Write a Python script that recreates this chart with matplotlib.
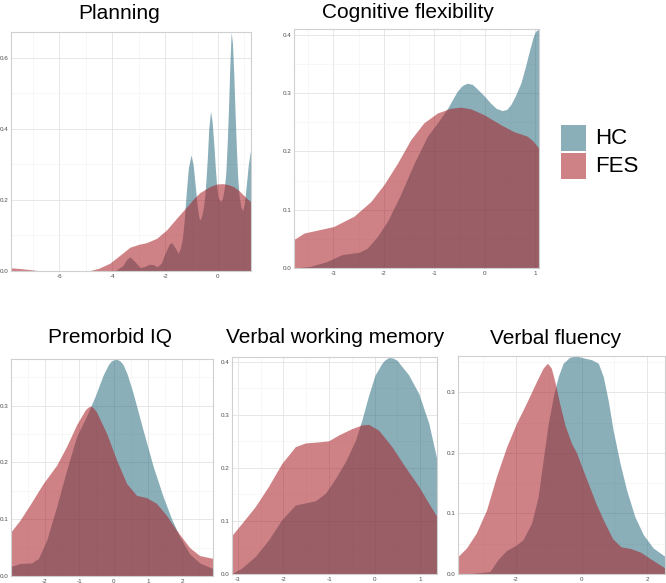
import matplotlib.pyplot as plt
from matplotlib.patches import Rectangle
from matplotlib.ticker import MultipleLocator

plt.rcParams['font.family'] = ['Liberation Sans', 'DejaVu Sans']

# density curves (x, y per group)
plan_hc_x = [-7.83, -3.9, -3.6, -3.45, -3.33, -3.15, -2.95, -2.8, -2.6, -2.45, -2.3, -2.15, -2.0, -1.85,
             -1.75, -1.62, -1.5, -1.42, -1.35, -1.28, -1.2, -1.12, -1.02, -0.94, -0.86, -0.78, -0.72,
             -0.67, -0.6, -0.55, -0.5, -0.45, -0.4, -0.35, -0.28, -0.22, -0.15, -0.1, -0.05, 0.0, 0.08,
             0.15, 0.2, 0.25, 0.3, 0.35, 0.4, 0.45, 0.5, 0.55, 0.6, 0.65, 0.7, 0.75, 0.8, 0.87, 0.93,
             1.0, 1.07, 1.15, 1.25]
plan_hc_y = [0.0, 0.0, 0.015, 0.033, 0.04, 0.027, 0.01, 0.012, 0.019, 0.018, 0.012, 0.022, 0.05, 0.075,
             0.08, 0.065, 0.05, 0.065, 0.09, 0.14, 0.22, 0.29, 0.327, 0.3, 0.24, 0.18, 0.15,
             0.144, 0.16, 0.18, 0.21, 0.26, 0.32, 0.4, 0.45, 0.42, 0.35, 0.29, 0.24, 0.21, 0.196,
             0.2, 0.215, 0.24, 0.28, 0.36, 0.46, 0.58, 0.673, 0.64, 0.55, 0.44, 0.34, 0.26, 0.21, 0.18, 0.17,
             0.19, 0.24, 0.3, 0.35]
plan_fes_x = [-7.83, -7.5, -7.0, -6.7, -5.0, -4.8, -4.5, -4.09, -3.7, -3.33, -3.0, -2.7, -2.32, -1.94,
              -1.56, -1.19, -0.9, -0.68, -0.3, -0.05, 0.2, 0.4, 0.58, 0.8, 0.96, 1.1, 1.25]
plan_fes_y = [0.009, 0.007, 0.003, 0.0, 0.0, 0.002, 0.008, 0.022, 0.045, 0.067, 0.075, 0.08, 0.092, 0.116,
              0.149, 0.18, 0.205, 0.221, 0.238, 0.245, 0.246, 0.243, 0.238, 0.226, 0.214, 0.204, 0.194]

cog_hc_x = [-3.78, -3.45, -3.13, -2.83, -2.49, -2.33, -2.13, -1.93, -1.67, -1.4, -1.14, -0.94, -0.74,
            -0.55, -0.45, -0.35, -0.25, -0.15, 0.0, 0.11, 0.22, 0.34, 0.43, 0.51, 0.6, 0.71, 0.8, 0.87,
            0.95, 1.0, 1.07]
cog_hc_y = [0.0, 0.003, 0.011, 0.023, 0.027, 0.034, 0.054, 0.08, 0.126, 0.18, 0.226, 0.249, 0.274,
            0.303, 0.313, 0.317, 0.315, 0.307, 0.294, 0.283, 0.274, 0.27, 0.272, 0.28, 0.295, 0.317, 0.345,
            0.369, 0.395, 0.406, 0.41]
cog_fes_x = [-3.78, -3.58, -3.0, -2.59, -2.26, -2.0, -1.73, -1.47, -1.21, -0.94, -0.68, -0.48, -0.28,
             -0.02, 0.31, 0.57, 0.84, 0.95, 1.07]
cog_fes_y = [0.049, 0.06, 0.071, 0.089, 0.114, 0.143, 0.18, 0.22, 0.249, 0.266, 0.274, 0.276, 0.273,
             0.263, 0.246, 0.234, 0.226, 0.218, 0.205]

iq_hc_x = [-2.99, -2.73, -2.39, -2.19, -1.95, -1.66, -1.37, -1.08, -0.79, -0.54, -0.3, -0.15, -0.06,
           0.09, 0.2, 0.28, 0.4, 0.57, 0.86, 1.16, 1.45, 1.69, 1.93, 2.22, 2.51, 2.9]
iq_hc_y = [0.017, 0.022, 0.023, 0.031, 0.063, 0.122, 0.186, 0.245, 0.281, 0.316, 0.354, 0.372, 0.379,
           0.382, 0.378, 0.372, 0.355, 0.322, 0.257, 0.192, 0.139, 0.101, 0.069, 0.039, 0.023, 0.013]
iq_fes_x = [-2.99, -2.73, -2.44, -2.05, -1.66, -1.37, -1.08, -0.83, -0.75, -0.67, -0.6, -0.5, -0.2,
            0.09, 0.38, 0.67, 0.96, 1.25, 1.54, 1.83, 2.22, 2.51, 2.9]
iq_fes_y = [0.078, 0.098, 0.125, 0.163, 0.195, 0.228, 0.266, 0.292, 0.297, 0.299, 0.297, 0.289, 0.251,
            0.204, 0.163, 0.142, 0.138, 0.128, 0.107, 0.081, 0.05, 0.036, 0.031]

vwm_hc_x = [-3.13, -2.92, -2.62, -2.33, -2.04, -1.74, -1.52, -1.3, -1.08, -0.86, -0.64, -0.42, -0.28,
            -0.13, 0.01, 0.16, 0.22, 0.31, 0.4, 0.49, 0.75, 0.97, 1.19, 1.37]
vwm_hc_y = [0.001, 0.011, 0.033, 0.064, 0.102, 0.13, 0.134, 0.138, 0.152, 0.18, 0.212, 0.252, 0.29,
            0.337, 0.375, 0.397, 0.403, 0.408, 0.407, 0.403, 0.375, 0.34, 0.284, 0.215]
vwm_fes_x = [-3.13, -2.92, -2.62, -2.33, -2.04, -1.74, -1.52, -1.23, -1.01, -0.79, -0.5, -0.28, -0.13,
             0.09, 0.38, 0.67, 0.97, 1.19, 1.37]
vwm_fes_y = [0.073, 0.095, 0.127, 0.165, 0.208, 0.24, 0.247, 0.249, 0.251, 0.262, 0.274, 0.281, 0.282,
             0.271, 0.24, 0.202, 0.165, 0.133, 0.108]

flu_hc_x = [-3.76, -3.3, -2.79, -2.54, -2.28, -1.98, -1.78, -1.52, -1.32, -1.17, -1.02, -0.86, -0.71,
            -0.56, -0.36, -0.15, 0.05, 0.3, 0.51, 0.66, 0.81, 0.96, 1.17, 1.37, 1.62, 1.88, 2.18, 2.54]
flu_hc_y = [0.0, 0.001, 0.004, 0.024, 0.039, 0.048, 0.057, 0.084, 0.128, 0.188, 0.246, 0.293, 0.326,
            0.348, 0.358, 0.36, 0.357, 0.354, 0.348, 0.326, 0.287, 0.238, 0.183, 0.139, 0.095, 0.065, 0.043,
            0.029]
flu_fes_x = [-3.76, -3.5, -3.2, -2.89, -2.59, -2.28, -1.98, -1.68, -1.37, -1.17, -1.04, -0.92, -0.8,
             -0.66, -0.5, -0.3, -0.15, 0.0, 0.2, 0.45, 0.7, 0.95, 1.2, 1.5, 1.8, 2.1, 2.54]
flu_fes_y = [0.029, 0.043, 0.068, 0.106, 0.161, 0.21, 0.249, 0.282, 0.318, 0.34, 0.348, 0.34, 0.315,
             0.28, 0.245, 0.215, 0.2, 0.178, 0.15, 0.115, 0.085, 0.058, 0.045, 0.042, 0.036, 0.025, 0.01]

color_hc = '#2a6d80'
color_fes = '#a81c23'
alpha = 0.55

W, H = 666, 583
fig = plt.figure(figsize=(W / 100, H / 100), dpi=100)


def make_panel(box, title, title_x, title_y, hc, fes, xlim, ylim, xstep, ystep):
    left, top, right, bottom = box
    ax = fig.add_axes([left / W, 1 - bottom / H, (right - left) / W, (bottom - top) / H])
    ax.fill_between(hc[0], hc[1], 0, color=color_hc, alpha=alpha, linewidth=0)
    ax.fill_between(fes[0], fes[1], 0, color=color_fes, alpha=alpha, linewidth=0)
    ax.set_xlim(*xlim)
    ax.set_ylim(*ylim)
    ax.xaxis.set_major_locator(MultipleLocator(xstep))
    ax.xaxis.set_minor_locator(MultipleLocator(xstep / 2))
    ax.yaxis.set_major_locator(MultipleLocator(ystep))
    ax.yaxis.set_minor_locator(MultipleLocator(ystep / 2))
    ax.yaxis.set_major_formatter(lambda v, p: f'{v:.1f}')
    ax.xaxis.set_major_formatter(lambda v, p: f'{v:g}')
    ax.grid(which='major', color='#e3e3e3', linewidth=0.6)
    ax.grid(which='minor', color='#f1f1f1', linewidth=0.4)
    ax.set_axisbelow(True)
    ax.tick_params(which='both', length=0, labelsize=4.5, labelcolor='#4d4d4d', pad=2)
    for s in ax.spines.values():
        s.set_color('#d0d0d0')
        s.set_linewidth(0.8)
    fig.text(title_x / W, 1 - title_y / H, title, ha='center', va='baseline', fontsize=15)
    return ax


make_panel((11, 32, 251, 271), 'Planning', 119, 19, (plan_hc_x, plan_hc_y), (plan_fes_x, plan_fes_y),
           (-7.83, 1.25), (0, 0.673), 2, 0.2)
make_panel((294, 29, 539, 268), 'Cognitive flexibility', 408, 18.5, (cog_hc_x, cog_hc_y),
           (cog_fes_x, cog_fes_y), (-3.78, 1.07), (0, 0.41), 1, 0.1)
make_panel((11, 359, 213, 576), 'Premorbid IQ', 110, 343, (iq_hc_x, iq_hc_y), (iq_fes_x, iq_fes_y),
           (-2.99, 2.9), (0, 0.382), 1, 0.1)
make_panel((232, 357, 437, 574), 'Verbal working memory', 335, 343, (vwm_hc_x, vwm_hc_y),
           (vwm_fes_x, vwm_fes_y), (-3.13, 1.37), (0, 0.409), 1, 0.1)
make_panel((458, 356, 665, 574), 'Verbal fluency', 556, 344, (flu_hc_x, flu_hc_y), (flu_fes_x, flu_fes_y),
           (-3.76, 2.54), (0, 0.36), 2, 0.1)

# legend drawn by hand on the figure
for label, col, top in [('HC', color_hc, 125), ('FES', color_fes, 153)]:
    fig.add_artist(Rectangle((561 / W, 1 - (top + 26) / H), 25 / W, 26 / H, transform=fig.transFigure,
                             facecolor=col, alpha=alpha, linewidth=0))
    fig.text(595 / W, 1 - (top + 13) / H, label, ha='left', va='center', fontsize=16)

fig.savefig('out.png', dpi=100)
